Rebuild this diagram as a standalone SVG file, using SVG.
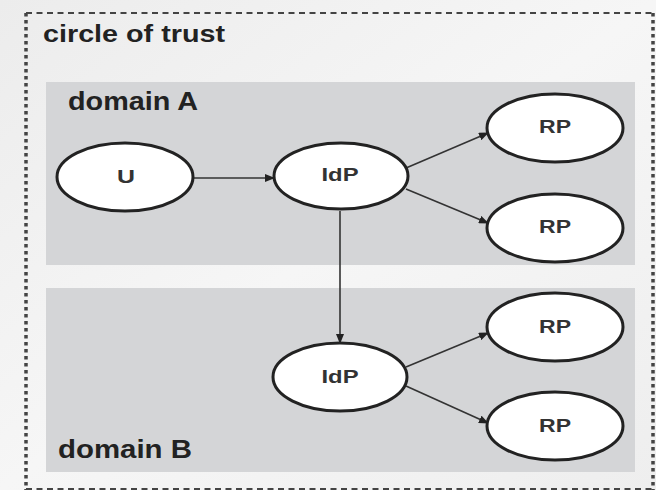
<svg xmlns="http://www.w3.org/2000/svg" width="656" height="490" viewBox="0 0 656 490">
<defs>
<linearGradient id="bg" x1="0" y1="0" x2="1" y2="1">
<stop offset="0" stop-color="#ececec"/>
<stop offset="0.5" stop-color="#f6f6f6"/>
<stop offset="1" stop-color="#eeeeee"/>
</linearGradient>
<marker id="ah" markerWidth="10" markerHeight="8" refX="9" refY="4" orient="auto" markerUnits="userSpaceOnUse">
<path d="M0,0 L10,4 L0,8 Z" fill="#222"/>
</marker>
</defs>
<style>
.lbl{font-family:"Liberation Sans",Arial,sans-serif;font-weight:bold;fill:#222;}
.node ellipse{fill:#fff;stroke:#222;stroke-width:3;}
.node text{font-family:"Liberation Sans",Arial,sans-serif;font-weight:bold;font-size:19px;fill:#333;text-anchor:middle;}
.dom{fill:#d4d5d7;}
#connectors line{stroke:#333;stroke-width:1.6;marker-end:url(#ah);}
</style>
<rect x="0" y="0" width="656" height="490" fill="url(#bg)"/>
<g id="circle-of-trust">
<path d="M26,13 H653" fill="none" stroke="#444" stroke-width="2" stroke-dasharray="6,4.5"/>
<path d="M26,13 V490 M653,13 V490" fill="none" stroke="#444" stroke-width="3.5" stroke-dasharray="3.5,3.5"/>
<path d="M26,489 H653" fill="none" stroke="#444" stroke-width="2" stroke-dasharray="6,4.5"/>
<text class="lbl" x="43" y="42" font-size="23" textLength="182" lengthAdjust="spacingAndGlyphs">circle of trust</text>
</g>
<g id="domainA">
<rect class="dom" x="46" y="82" width="589" height="183"/>
<text class="lbl" x="68" y="110" font-size="26" textLength="130" lengthAdjust="spacingAndGlyphs">domain A</text>
</g>
<g id="domainB">
<rect class="dom" x="46" y="288" width="589" height="184"/>
<text class="lbl" x="58" y="458" font-size="26" textLength="134" lengthAdjust="spacingAndGlyphs">domain B</text>
</g>
<g id="connectors">
<line x1="193" y1="178" x2="274" y2="178"/>
<line x1="406" y1="168" x2="488" y2="133"/>
<line x1="406" y1="189" x2="488" y2="223"/>
<line x1="340" y1="211" x2="340" y2="343"/>
<line x1="406" y1="367" x2="488" y2="333"/>
<line x1="406" y1="386" x2="488" y2="423"/>
</g>
<g id="U" class="node"><ellipse cx="125" cy="177" rx="68" ry="34"/><text x="126" y="183" textLength="18" lengthAdjust="spacingAndGlyphs">U</text></g>
<g id="IdP-A" class="node"><ellipse cx="341" cy="176" rx="67" ry="33"/><text x="340" y="181" textLength="37" lengthAdjust="spacingAndGlyphs">IdP</text></g>
<g id="RP-A1" class="node"><ellipse cx="555" cy="128" rx="68" ry="34"/><text x="555" y="133" textLength="32" lengthAdjust="spacingAndGlyphs">RP</text></g>
<g id="RP-A2" class="node"><ellipse cx="555" cy="228" rx="68" ry="34"/><text x="555" y="233" textLength="32" lengthAdjust="spacingAndGlyphs">RP</text></g>
<g id="IdP-B" class="node"><ellipse cx="340" cy="377" rx="67" ry="34"/><text x="340" y="383" textLength="37" lengthAdjust="spacingAndGlyphs">IdP</text></g>
<g id="RP-B1" class="node"><ellipse cx="555" cy="327" rx="68" ry="34"/><text x="555" y="333" textLength="32" lengthAdjust="spacingAndGlyphs">RP</text></g>
<g id="RP-B2" class="node"><ellipse cx="555" cy="426" rx="68" ry="34"/><text x="555" y="432" textLength="32" lengthAdjust="spacingAndGlyphs">RP</text></g>
</svg>
